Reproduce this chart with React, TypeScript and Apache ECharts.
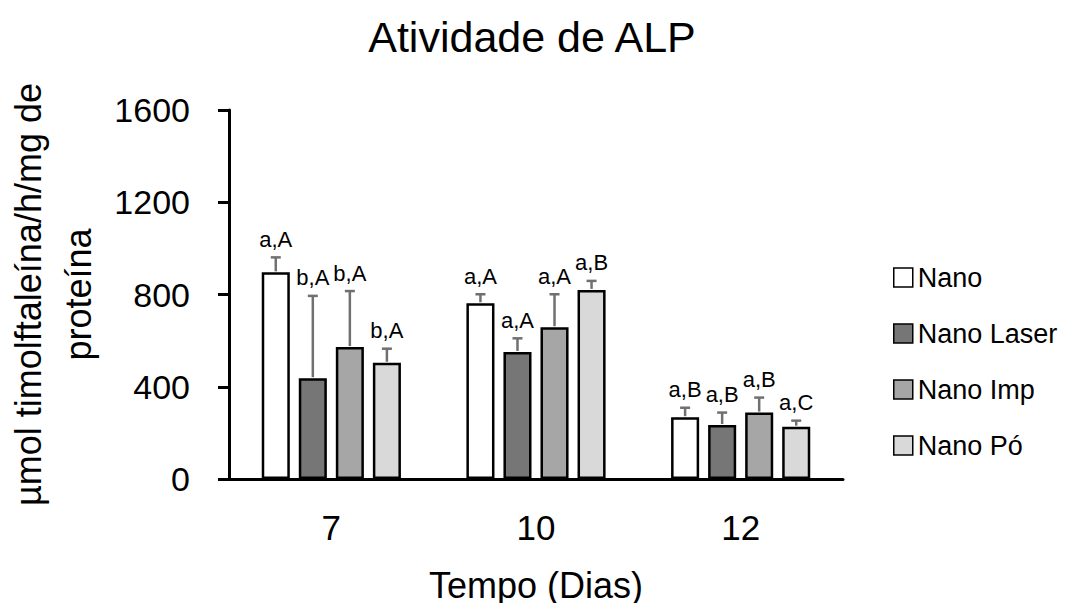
import React, { useEffect, useRef } from "react";
import * as echarts from "echarts";

const categories = ["7", "10", "12"];
const seriesNames = ["Nano", "Nano Laser", "Nano Imp", "Nano Pó"];
const meanNano = [896, 762, 268];
const meanLaser = [437, 551, 234];
const meanImp = [572, 658, 288];
const meanPo = [504, 820, 227];
const errNano = [65, 39, 41];
const errLaser = [357, 59, 54];
const errImp = [243, 143, 65];
const errPo = [61, 39, 26];
const lettersNano = ["a,A", "a,A", "a,B"];
const lettersLaser = ["b,A", "a,A", "a,B"];
const lettersImp = ["b,A", "a,A", "a,B"];
const lettersPo = ["b,A", "a,B", "a,C"];
const yTicks = [0, 400, 800, 1200, 1600];

const means = [meanNano, meanLaser, meanImp, meanPo];
const errs = [errNano, errLaser, errImp, errPo];
const letters = [lettersNano, lettersLaser, lettersImp, lettersPo];
const colors = ["#ffffff", "#767676", "#a6a6a6", "#d9d9d9"];

const FONT = "'Liberation Sans', Arial, sans-serif";
const CAT_GAP = 0.32;
const BAR_GAP = 0.32;

export default function App() {
  const ref = useRef<HTMLDivElement>(null);
  useEffect(() => {
    if (!ref.current) return;
    const chart = echarts.init(ref.current, null, { renderer: "svg" });
    const n = seriesNames.length;
    const barSeries = seriesNames.map((name, i) => ({
      type: "bar",
      name,
      data: means[i],
      barCategoryGap: CAT_GAP * 100 + "%",
      barGap: BAR_GAP * 100 + "%",
      itemStyle: { color: colors[i], borderColor: "#000", borderWidth: 2.5 },
      z: 2,
    }));
    const errSeries = seriesNames.map((name, i) => ({
      type: "custom",
      name: name + " erro",
      data: categories.map((_, c) => [c, means[i][c], errs[i][c]]),
      z: 3,
      renderItem: (params: any, api: any) => {
        const c = api.value(0);
        const m = api.value(1);
        const e = api.value(2);
        const label = letters[i][c];
        const band = api.size([1, 0])[0];
        const remained = band * (1 - CAT_GAP);
        const w = remained / (n + (n - 1) * BAR_GAP);
        const total = n * w + (n - 1) * w * BAR_GAP;
        const off = -total / 2 + i * w * (1 + BAR_GAP) + w / 2;
        const base = api.coord([c, m]);
        const top = api.coord([c, m + e]);
        const x = base[0] + off;
        const lineStyle = { stroke: "#707070", lineWidth: 2.5 };
        return {
          type: "group",
          children: [
            { type: "line", shape: { x1: x, y1: base[1] - 1, x2: x, y2: top[1] }, style: lineStyle },
            { type: "line", shape: { x1: x - 5, y1: top[1], x2: x + 5, y2: top[1] }, style: lineStyle },
            {
              type: "text",
              style: {
                text: label,
                x,
                y: top[1] - 7,
                align: "center",
                verticalAlign: "bottom",
                font: "22px " + FONT,
                fill: "#000",
              },
            },
          ],
        };
      },
    }));

    chart.setOption({
      animation: false,
      backgroundColor: "#fff",
      title: {
        text: "Atividade de ALP",
        left: 527,
        textAlign: "center",
        top: 10,
        textStyle: { fontFamily: FONT, fontSize: 43, fontWeight: "normal", color: "#000" },
      },
      legend: {
        data: seriesNames,
        orient: "vertical",
        left: 893,
        top: 264,
        padding: 0,
        itemWidth: 19,
        itemHeight: 19,
        itemGap: 29,
        icon: "rect",
        itemStyle: { borderColor: "#000", borderWidth: 1.5 },
        textStyle: { fontFamily: FONT, fontSize: 27, color: "#000" },
      },
      grid: { left: 229, right: 225, top: 110, bottom: 132, containLabel: false, outerBoundsMode: "none" },
      xAxis: {
        type: "category",
        data: categories,
        name: "Tempo (Dias)",
        nameLocation: "middle",
        nameGap: 88,
        nameTextStyle: { fontFamily: FONT, fontSize: 36, color: "#000" },
        axisLine: { lineStyle: { color: "#000", width: 3 } },
        axisTick: { alignWithLabel: true, length: 11, lineStyle: { color: "#000", width: 3 } },
        axisLabel: { fontFamily: FONT, fontSize: 35, color: "#000", margin: 31 },
      },
      yAxis: {
        type: "value",
        min: yTicks[0],
        max: yTicks[yTicks.length - 1],
        interval: 400,
        name: "µmol timolftaleína/h/mg de\nproteína",
        nameLocation: "middle",
        nameRotate: 90,
        nameGap: 104,
        nameTextStyle: { fontFamily: FONT, fontSize: 36, color: "#000", lineHeight: 50 },
        axisLine: { show: true, lineStyle: { color: "#000", width: 3 } },
        axisTick: { show: true, length: 11, lineStyle: { color: "#000", width: 3 } },
        axisLabel: {
          fontFamily: FONT,
          fontSize: 34,
          color: "#000",
          margin: 39,
          formatter: (v: number) => String(v),
        },
        splitLine: { show: false },
      },
      series: [...barSeries, ...errSeries],
    });
    return () => chart.dispose();
  }, []);
  return <div ref={ref} style={{ width: 1068, height: 611, margin: -8 }} />;
}
